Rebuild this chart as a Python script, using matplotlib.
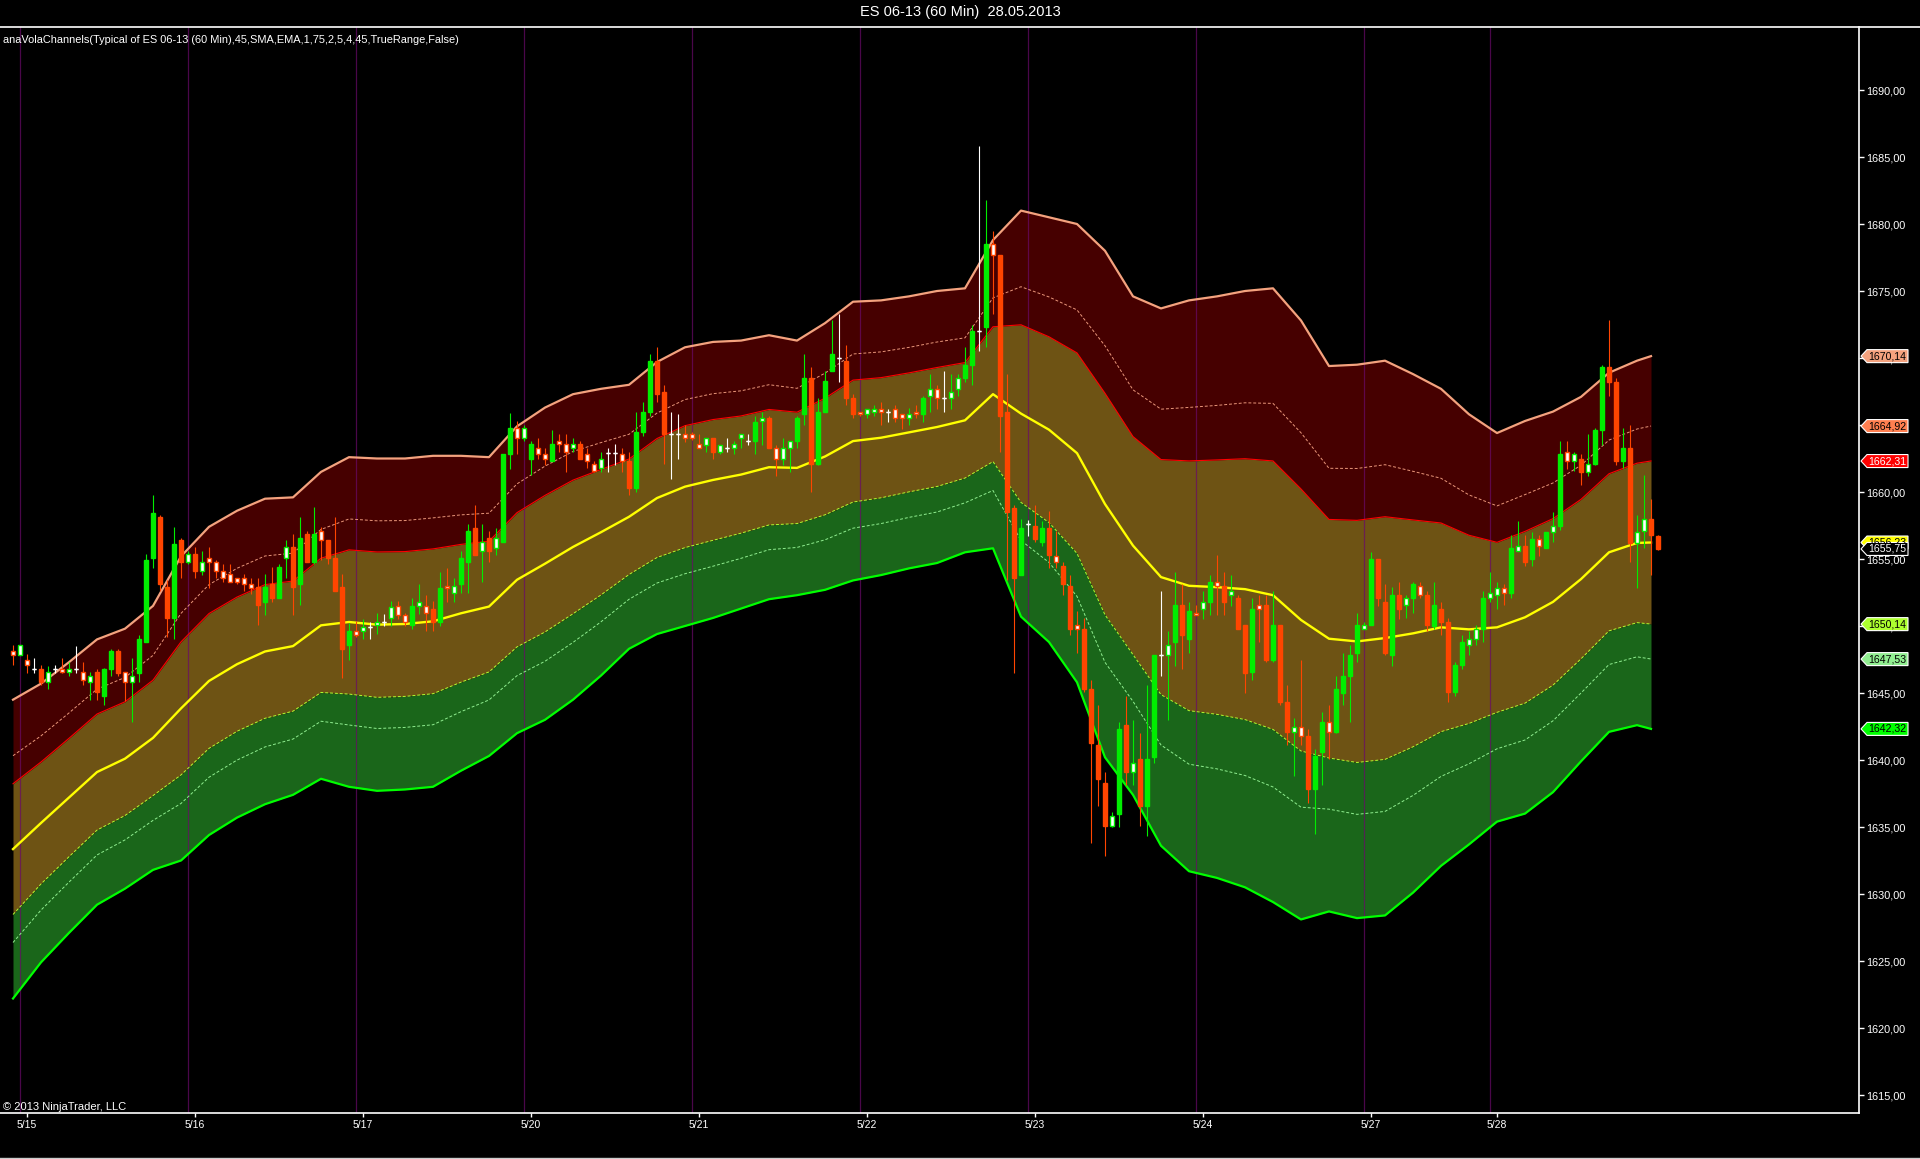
import matplotlib
matplotlib.use("Agg")
import matplotlib.pyplot as plt
from matplotlib.lines import Line2D
from matplotlib.patches import Polygon
import numpy as np

plt.rcParams["font.family"] = ["Liberation Sans", "DejaVu Sans"]

# hourly OHLC bars (bar index 0..235)
opens = [1648.1, 1647.8, 1647.5, 1646.8, 1646.8, 1645.8, 1646.8, 1646.8, 1646.6, 1646.8,
         1646.6, 1645.8, 1646.6, 1644.8, 1646.8, 1648.1, 1646.6, 1645.8, 1646.5, 1648.8,
         1655.1, 1658.1, 1652.9, 1650.6, 1656.4, 1654.8, 1655.4, 1654.1, 1655.1, 1654.8,
         1654.1, 1653.9, 1653.6, 1653.6, 1653.1, 1652.9, 1651.8, 1653.1, 1652.1, 1655.1,
         1655.9, 1653.1, 1656.9, 1654.8, 1657.1, 1656.4, 1655.1, 1652.9, 1648.6, 1649.6,
         1649.6, 1649.9, 1650.1, 1650.3, 1650.6, 1651.5, 1650.8, 1650.1, 1651.5, 1651.5,
         1651.3, 1650.3, 1653.0, 1652.5, 1653.1, 1654.8, 1657.3, 1655.6, 1656.6, 1655.8,
         1656.3, 1662.8, 1664.8, 1664.0, 1662.5, 1663.3, 1662.8, 1662.3, 1663.8, 1663.6,
         1663.3, 1663.6, 1662.8, 1662.1, 1661.8, 1662.9, 1662.9, 1662.8, 1662.3, 1660.3,
         1664.5, 1666.0, 1669.8, 1667.5, 1664.3, 1664.3, 1664.3, 1664.3, 1663.6, 1663.5,
         1664.0, 1663.0, 1663.3, 1663.3, 1664.0, 1663.8, 1663.8, 1665.3, 1665.5, 1663.3,
         1662.5, 1663.3, 1663.8, 1665.8, 1668.5, 1662.1, 1666.0, 1669.0, 1670.0, 1669.8,
         1667.0, 1666.0, 1665.8, 1666.0, 1666.2, 1666.0, 1666.2, 1665.8, 1665.5, 1666.0,
         1665.8, 1667.2, 1667.7, 1667.0, 1667.0, 1667.7, 1668.5, 1669.5, 1672.0, 1672.3,
         1678.5, 1677.7, 1666.0, 1658.8, 1653.8, 1657.6, 1657.5, 1656.3, 1657.3, 1655.2,
         1654.5, 1653.0, 1650.1, 1649.8, 1645.3, 1641.1, 1638.3, 1635.1, 1636.0, 1642.6,
         1639.1, 1640.1, 1636.6, 1640.2, 1647.8, 1647.8, 1648.8, 1651.6, 1649.0, 1651.0,
         1651.3, 1651.8, 1653.3, 1653.0, 1652.3, 1652.1, 1650.1, 1646.6, 1651.6, 1651.6,
         1647.5, 1650.1, 1644.3, 1642.1, 1642.5, 1641.8, 1637.8, 1640.6, 1642.8, 1642.1,
         1645.0, 1646.3, 1648.0, 1649.8, 1650.1, 1655.0, 1651.8, 1647.8, 1652.3, 1651.6,
         1652.1, 1653.0, 1652.3, 1650.0, 1651.3, 1650.3, 1645.1, 1647.1, 1648.6, 1649.0,
         1649.8, 1652.1, 1652.3, 1652.8, 1652.5, 1655.6, 1656.0, 1655.0, 1656.5, 1655.8,
         1657.0, 1657.5, 1663.0, 1662.3, 1662.5, 1661.5, 1662.1, 1664.6, 1669.3, 1668.2,
         1662.3, 1663.3, 1656.2, 1657.1, 1658.0, 1656.75]
highs = [1648.6, 1648.6, 1647.9, 1647.6, 1647.1, 1647.0, 1647.1, 1647.6, 1647.3, 1648.5,
         1647.3, 1646.6, 1646.8, 1646.9, 1648.3, 1648.3, 1646.6, 1647.6, 1649.3, 1655.4,
         1659.8, 1658.3, 1653.4, 1657.4, 1656.6, 1655.6, 1655.9, 1655.6, 1655.9, 1654.9,
         1654.6, 1654.6, 1653.6, 1653.9, 1653.6, 1653.6, 1653.9, 1654.4, 1654.6, 1656.4,
         1656.9, 1658.1, 1657.1, 1658.9, 1657.4, 1656.4, 1658.1, 1653.9, 1650.2, 1650.4,
         1650.5, 1650.3, 1651.0, 1650.9, 1651.9, 1651.9, 1651.0, 1652.1, 1653.1, 1652.3,
         1651.9, 1654.0, 1654.3, 1653.6, 1655.6, 1657.6, 1659.0, 1657.6, 1657.1, 1657.3,
         1662.8, 1665.9, 1665.3, 1665.0, 1663.8, 1664.0, 1663.3, 1664.6, 1664.3, 1664.3,
         1664.0, 1663.8, 1663.3, 1662.3, 1663.0, 1663.3, 1663.6, 1663.3, 1663.0, 1666.0,
         1666.7, 1670.3, 1670.8, 1668.0, 1666.0, 1665.8, 1665.0, 1664.5, 1664.3, 1664.0,
         1664.0, 1663.5, 1664.0, 1663.8, 1664.3, 1664.3, 1665.7, 1666.0, 1665.7, 1663.5,
         1664.0, 1663.8, 1665.7, 1670.3, 1669.3, 1667.0, 1669.0, 1672.8, 1673.3, 1671.0,
         1667.3, 1666.0, 1666.2, 1666.5, 1666.7, 1666.2, 1666.5, 1665.8, 1666.3, 1666.5,
         1667.2, 1668.8, 1668.0, 1669.0, 1668.8, 1668.8, 1670.8, 1672.5, 1685.8, 1681.8,
         1679.5, 1677.7, 1668.8, 1659.0, 1658.0, 1657.9, 1659.0, 1657.8, 1658.6, 1657.1,
         1654.8, 1653.8, 1651.1, 1650.6, 1646.0, 1644.1, 1639.1, 1636.1, 1642.8, 1644.8,
         1643.0, 1642.0, 1645.6, 1647.8, 1652.6, 1649.6, 1654.0, 1653.1, 1651.8, 1651.6,
         1652.6, 1653.8, 1655.3, 1654.0, 1653.8, 1652.3, 1650.1, 1652.1, 1652.3, 1652.3,
         1652.6, 1650.1, 1645.6, 1643.1, 1647.5, 1642.3, 1640.8, 1643.6, 1644.1, 1646.3,
         1648.0, 1648.6, 1651.0, 1650.3, 1655.5, 1655.0, 1653.1, 1652.9, 1653.3, 1652.3,
         1653.3, 1653.3, 1652.6, 1653.3, 1651.8, 1650.6, 1647.3, 1649.3, 1649.6, 1650.1,
         1652.6, 1654.0, 1653.3, 1653.1, 1656.8, 1657.8, 1656.8, 1657.0, 1656.8, 1657.0,
         1658.5, 1663.8, 1663.8, 1663.0, 1662.8, 1664.3, 1664.8, 1669.5, 1672.8, 1668.5,
         1664.8, 1665.0, 1658.3, 1661.3, 1659.5, 1656.8]
lows = [1647.1, 1647.8, 1646.5, 1646.5, 1645.6, 1645.3, 1646.5, 1646.5, 1646.3, 1646.5,
        1645.6, 1644.5, 1644.5, 1644.1, 1646.3, 1646.3, 1644.4, 1642.8, 1645.8, 1648.8,
        1654.3, 1652.6, 1649.2, 1649.0, 1653.6, 1654.6, 1653.6, 1653.8, 1652.8, 1653.6,
        1653.3, 1653.3, 1653.1, 1652.6, 1652.4, 1650.1, 1650.8, 1651.8, 1652.1, 1653.6,
        1650.8, 1651.6, 1654.8, 1654.6, 1654.9, 1654.6, 1652.6, 1646.1, 1647.5, 1649.2,
        1649.0, 1649.0, 1649.4, 1650.0, 1650.0, 1650.5, 1650.0, 1649.8, 1650.9, 1649.6,
        1649.6, 1650.0, 1651.8, 1651.8, 1652.5, 1652.5, 1655.3, 1653.3, 1654.8, 1655.3,
        1656.3, 1661.7, 1662.8, 1663.8, 1661.3, 1662.5, 1662.0, 1662.3, 1663.0, 1661.5,
        1663.0, 1662.5, 1661.8, 1661.5, 1661.5, 1661.5, 1662.0, 1661.5, 1659.8, 1660.0,
        1664.2, 1665.7, 1666.7, 1662.1, 1661.0, 1662.5, 1663.7, 1663.9, 1663.3, 1663.0,
        1662.5, 1662.8, 1663.0, 1662.8, 1663.3, 1663.5, 1662.8, 1663.5, 1663.3, 1661.2,
        1662.0, 1661.5, 1663.3, 1665.0, 1660.0, 1662.0, 1666.0, 1669.0, 1668.2, 1666.5,
        1665.5, 1665.7, 1665.5, 1665.7, 1665.0, 1665.2, 1665.2, 1664.7, 1665.0, 1665.5,
        1665.2, 1666.0, 1666.2, 1666.0, 1666.2, 1667.2, 1668.2, 1668.0, 1670.5, 1670.8,
        1673.3, 1663.0, 1653.4, 1646.5, 1653.8, 1656.7, 1656.3, 1656.0, 1654.3, 1654.3,
        1652.3, 1649.3, 1648.0, 1645.1, 1633.8, 1636.6, 1632.8, 1635.0, 1635.0, 1638.1,
        1638.1, 1635.1, 1634.3, 1639.8, 1646.3, 1643.0, 1647.0, 1646.8, 1648.0, 1650.8,
        1650.5, 1650.8, 1650.8, 1650.8, 1651.5, 1649.8, 1645.0, 1646.0, 1648.8, 1647.3,
        1647.3, 1644.1, 1641.1, 1638.8, 1641.1, 1636.8, 1634.5, 1638.1, 1640.1, 1642.0,
        1644.1, 1642.8, 1647.3, 1649.8, 1650.1, 1651.5, 1647.8, 1647.0, 1650.5, 1650.6,
        1651.0, 1652.1, 1649.6, 1649.8, 1649.3, 1644.3, 1644.8, 1646.8, 1647.8, 1648.6,
        1648.8, 1651.8, 1651.3, 1651.6, 1652.1, 1655.6, 1654.5, 1654.5, 1655.2, 1655.8,
        1656.3, 1657.2, 1661.7, 1661.6, 1660.5, 1661.2, 1662.0, 1663.5, 1667.2, 1662.0,
        1661.8, 1654.8, 1652.8, 1655.8, 1653.8, 1655.7]
closes = [1647.8, 1648.6, 1647.1, 1646.8, 1645.8, 1646.6, 1646.8, 1646.6, 1646.8, 1646.8,
          1646.0, 1646.3, 1645.1, 1646.8, 1648.1, 1646.5, 1645.8, 1646.3, 1649.0, 1654.9,
          1658.4, 1653.1, 1650.6, 1656.1, 1654.8, 1655.4, 1654.1, 1654.8, 1654.8, 1654.1,
          1653.6, 1653.3, 1653.3, 1653.1, 1652.8, 1651.6, 1652.9, 1652.1, 1654.4, 1655.9,
          1652.9, 1656.6, 1654.8, 1656.9, 1656.4, 1655.1, 1652.6, 1648.3, 1649.6, 1649.3,
          1649.9, 1649.9, 1650.3, 1650.3, 1651.4, 1650.8, 1650.3, 1651.5, 1651.8, 1651.0,
          1650.3, 1652.8, 1652.8, 1653.0, 1655.1, 1657.1, 1655.3, 1656.3, 1655.6, 1656.6,
          1662.8, 1664.8, 1664.0, 1664.8, 1663.6, 1662.8, 1662.5, 1663.6, 1663.6, 1663.0,
          1663.6, 1662.5, 1662.3, 1661.6, 1662.5, 1662.9, 1662.9, 1662.3, 1660.3, 1664.5,
          1666.0, 1669.8, 1667.3, 1664.3, 1664.3, 1664.3, 1664.0, 1664.0, 1663.3, 1664.0,
          1663.0, 1663.5, 1663.3, 1663.6, 1664.3, 1663.8, 1665.2, 1665.5, 1663.3, 1662.5,
          1663.3, 1663.8, 1665.5, 1668.5, 1662.1, 1666.0, 1668.3, 1670.3, 1670.0, 1667.0,
          1665.8, 1665.8, 1666.2, 1666.2, 1666.0, 1666.0, 1665.5, 1665.5, 1665.8, 1665.8,
          1667.0, 1667.7, 1667.0, 1667.0, 1667.5, 1668.5, 1669.5, 1672.0, 1672.0, 1678.5,
          1677.7, 1665.7, 1658.5, 1653.6, 1657.3, 1657.6, 1656.5, 1657.3, 1655.3, 1654.8,
          1653.1, 1649.8, 1649.8, 1645.3, 1641.3, 1638.6, 1635.1, 1635.8, 1642.3, 1639.1,
          1639.8, 1636.6, 1640.1, 1647.8, 1647.8, 1648.6, 1651.6, 1649.3, 1651.1, 1650.8,
          1651.8, 1653.3, 1653.0, 1651.8, 1652.6, 1649.8, 1646.5, 1651.3, 1651.3, 1647.5,
          1650.1, 1644.3, 1642.1, 1642.5, 1641.8, 1637.8, 1640.3, 1642.8, 1642.1, 1645.3,
          1646.3, 1647.8, 1650.1, 1650.1, 1655.0, 1652.1, 1648.0, 1652.3, 1651.3, 1652.1,
          1653.1, 1652.3, 1650.1, 1651.6, 1650.3, 1645.1, 1647.1, 1648.8, 1649.0, 1649.8,
          1652.1, 1652.5, 1652.8, 1652.5, 1655.8, 1656.0, 1654.8, 1656.5, 1656.0, 1657.0,
          1657.5, 1662.8, 1662.3, 1662.8, 1661.5, 1662.1, 1664.6, 1669.3, 1668.2, 1662.3,
          1663.3, 1656.2, 1657.0, 1658.0, 1656.8, 1655.75]

# anaVolaChannels outer bands, read every 4th bar (last at bar 234)
band_idx = list(range(0, 233, 4)) + [234]
upper_outer = [1644.5, 1645.7, 1647.3, 1649.0, 1649.8, 1651.5, 1655.2, 1657.4, 1658.6, 1659.5,
               1659.6, 1661.5, 1662.6, 1662.5, 1662.5, 1662.7, 1662.7, 1662.6, 1664.9, 1666.3,
               1667.3, 1667.7, 1668.0, 1669.7, 1670.8, 1671.2, 1671.3, 1671.7, 1671.3, 1672.6,
               1674.2, 1674.3, 1674.6, 1675.0, 1675.2, 1678.8, 1681.0, 1680.5, 1680.0, 1678.0,
               1674.6, 1673.7, 1674.3, 1674.6, 1675.0, 1675.2, 1672.8, 1669.4, 1669.5, 1669.8,
               1668.8, 1667.7, 1665.8, 1664.4, 1665.3, 1666.0, 1667.1, 1668.9, 1669.8, 1670.14]
lower_outer = [1622.2, 1624.9, 1627.1, 1629.2, 1630.4, 1631.8, 1632.5, 1634.4, 1635.7, 1636.7,
               1637.4, 1638.6, 1638.0, 1637.7, 1637.8, 1638.0, 1639.2, 1640.3, 1642.0, 1643.0,
               1644.5, 1646.3, 1648.3, 1649.4, 1650.0, 1650.6, 1651.3, 1652.0, 1652.3, 1652.7,
               1653.4, 1653.8, 1654.3, 1654.7, 1655.5, 1655.8, 1650.7, 1648.8, 1645.8, 1640.2,
               1637.4, 1633.6, 1631.7, 1631.2, 1630.5, 1629.4, 1628.1, 1628.7, 1628.2, 1628.4,
               1630.1, 1632.1, 1633.7, 1635.4, 1636.0, 1637.6, 1639.9, 1642.1, 1642.6, 1642.32]
multipliers = [1.75, 2.5, 4.0]

session_bars = [1, 25, 49, 73, 97, 121, 145, 169, 193, 211]
date_bars = [2, 26, 50, 74, 98, 122, 146, 170, 194, 212]
date_labels = ["5/15", "5/16", "5/17", "5/20", "5/21", "5/22", "5/23", "5/24", "5/27", "5/28"]
price_ticks = [1615, 1620, 1625, 1630, 1635, 1640, 1645, 1650, 1655, 1660,
               1665, 1670, 1675, 1680, 1685, 1690]

W, H = 1920, 1159
fig = plt.figure(figsize=(W / 100, H / 100), dpi=100, facecolor="black")
ax_l, ax_r, ax_t, ax_b = 0, 1859, 27, 1113
pos = [ax_l / W, (H - ax_b) / H, (ax_r - ax_l) / W, (ax_b - ax_t) / H]
ax = fig.add_axes(pos)
ax.set_facecolor("black")
xlim = (-13 / 7, (ax_r - 13) / 7)
ylim = (1660 + (492 - ax_b) / 13.4, 1660 + (492 - ax_t) / 13.4)
ax.set_xlim(*xlim)
ax.set_ylim(*ylim)

bx = np.array(band_idx)
up = np.array(upper_outer)
lo = np.array(lower_outer)
mid = (up + lo) / 2
unit = (up - lo) / (2 * multipliers[2])
u_in, u_dot = mid + multipliers[0] * unit, mid + multipliers[1] * unit
l_in, l_dot = mid - multipliers[0] * unit, mid - multipliers[1] * unit

ax.fill_between(bx, u_in, up, color="#460000", lw=0, zorder=1)
ax.fill_between(bx, l_in, u_in, color="#6e5314", lw=0, zorder=1)
ax.fill_between(bx, lo, l_in, color="#1a661a", lw=0, zorder=1)

for s in session_bars:
    ax.axvline(s, color="#6a0a6a", lw=0.9, alpha=0.7, zorder=2)

ax.plot(bx, up, color="#f4a27e", lw=1.6, zorder=3)
ax.plot(bx, u_dot, color="#e9967a", lw=0.7, ls=(0, (3, 2)), zorder=3)
ax.plot(bx, u_in, color="#ff0000", lw=0.8, zorder=3)
ax.plot(bx, mid, color="#ffff00", lw=1.7, zorder=3)
ax.plot(bx, l_in, color="#adff2f", lw=0.7, ls=(0, (3, 2)), zorder=3)
ax.plot(bx, l_dot, color="#90ee90", lw=0.7, ls=(0, (3, 2)), zorder=3)
ax.plot(bx, lo, color="#00ff00", lw=1.6, zorder=3)

# candles
o = np.array(opens)
h = np.array(highs)
l = np.array(lows)
c = np.array(closes)
idx = np.arange(len(o))
cols = np.where(c > o, "#00ee00", np.where(c < o, "#ff4500", "#ffffff"))
ax.vlines(idx, l, h, colors=cols, lw=0.8, zorder=4)
body = np.abs(c - o)
faces = np.where(body < 1.0, "#ffffff", cols)
ax.bar(idx, body, bottom=np.minimum(o, c), width=0.6, color=faces, edgecolor=cols,
       lw=1.0, zorder=5)
doji = body == 0
ax.hlines(o[doji], idx[doji] - 0.3, idx[doji] + 0.3, colors="white", lw=0.9, zorder=5)

# axes styling
for side in ["left", "top"]:
    ax.spines[side].set_visible(False)
for side in ["right", "bottom"]:
    ax.spines[side].set_color("white")
    ax.spines[side].set_linewidth(1.2)
ax.yaxis.tick_right()
ax.set_yticks(price_ticks)
ax.set_yticklabels([f"{v:.2f}".replace(".", ",") for v in price_ticks])
ax.set_xticks(date_bars)
ax.set_xticklabels(date_labels)
ax.tick_params(axis="y", colors="white", labelsize=7.8, length=3.6, width=1, pad=1.5)
ax.tick_params(axis="x", colors="white", labelsize=7.5, length=3, width=1, pad=2)

fig.add_artist(Line2D([0, 1], [1 - ax_t / H, 1 - ax_t / H], color="white", lw=1.2))
fig.add_artist(Line2D([0, 1], [0.6 / H, 0.6 / H], color="#cccccc", lw=1))

narrow = ["Liberation Sans Narrow", "Liberation Sans", "DejaVu Sans"]
fig.text(0.5, 1 - 12 / H, "ES 06-13 (60 Min)  28.05.2013", color="white",
         ha="center", va="center", fontsize=10.5)
fig.text(3 / W, 1 - 40 / H,
         "anaVolaChannels(Typical of ES 06-13 (60 Min),45,SMA,EMA,1,75,2,5,4,45,TrueRange,False)",
         color="white", ha="left", va="center", fontsize=7.9, family=narrow)
fig.text(3 / W, 1 - 1107 / H, "\u00a9 2013 NinjaTrader, LLC", color="white",
         ha="left", va="center", fontsize=8.0, family=narrow)

# price markers on the right axis
rax = fig.add_axes([ax_r / W, pos[1], (W - ax_r) / W, pos[3]])
rax.set_xlim(0, W - ax_r)
rax.set_ylim(*ylim)
rax.axis("off")
half = 6.5 / 13.4


def marker(v, face, text_col, edge="white"):
    v = np.floor(v * 100 + 1e-6) / 100
    pts = [(2, v), (8, v + half), (49, v + half), (49, v - half), (8, v - half)]
    rax.add_patch(Polygon(pts, closed=True, facecolor=face, edgecolor=edge, lw=0.8,
                          clip_on=False))
    rax.text(28.5, v, f"{v:.2f}".replace(".", ","), color=text_col, ha="center",
             va="center", fontsize=7.6, clip_on=False)


marker(up[-1], "#f4a27e", "black")
marker(u_dot[-1], "#ff7f50", "black")
marker(u_in[-1], "#ff0000", "white")
marker(mid[-1], "#ffff00", "black")
marker(c[-1], "black", "white")
marker(l_in[-1], "#adff2f", "black")
marker(l_dot[-1], "#90ee90", "black")
marker(lo[-1], "#00ff00", "black")

fig.savefig("out.png", dpi=100, facecolor="black")
